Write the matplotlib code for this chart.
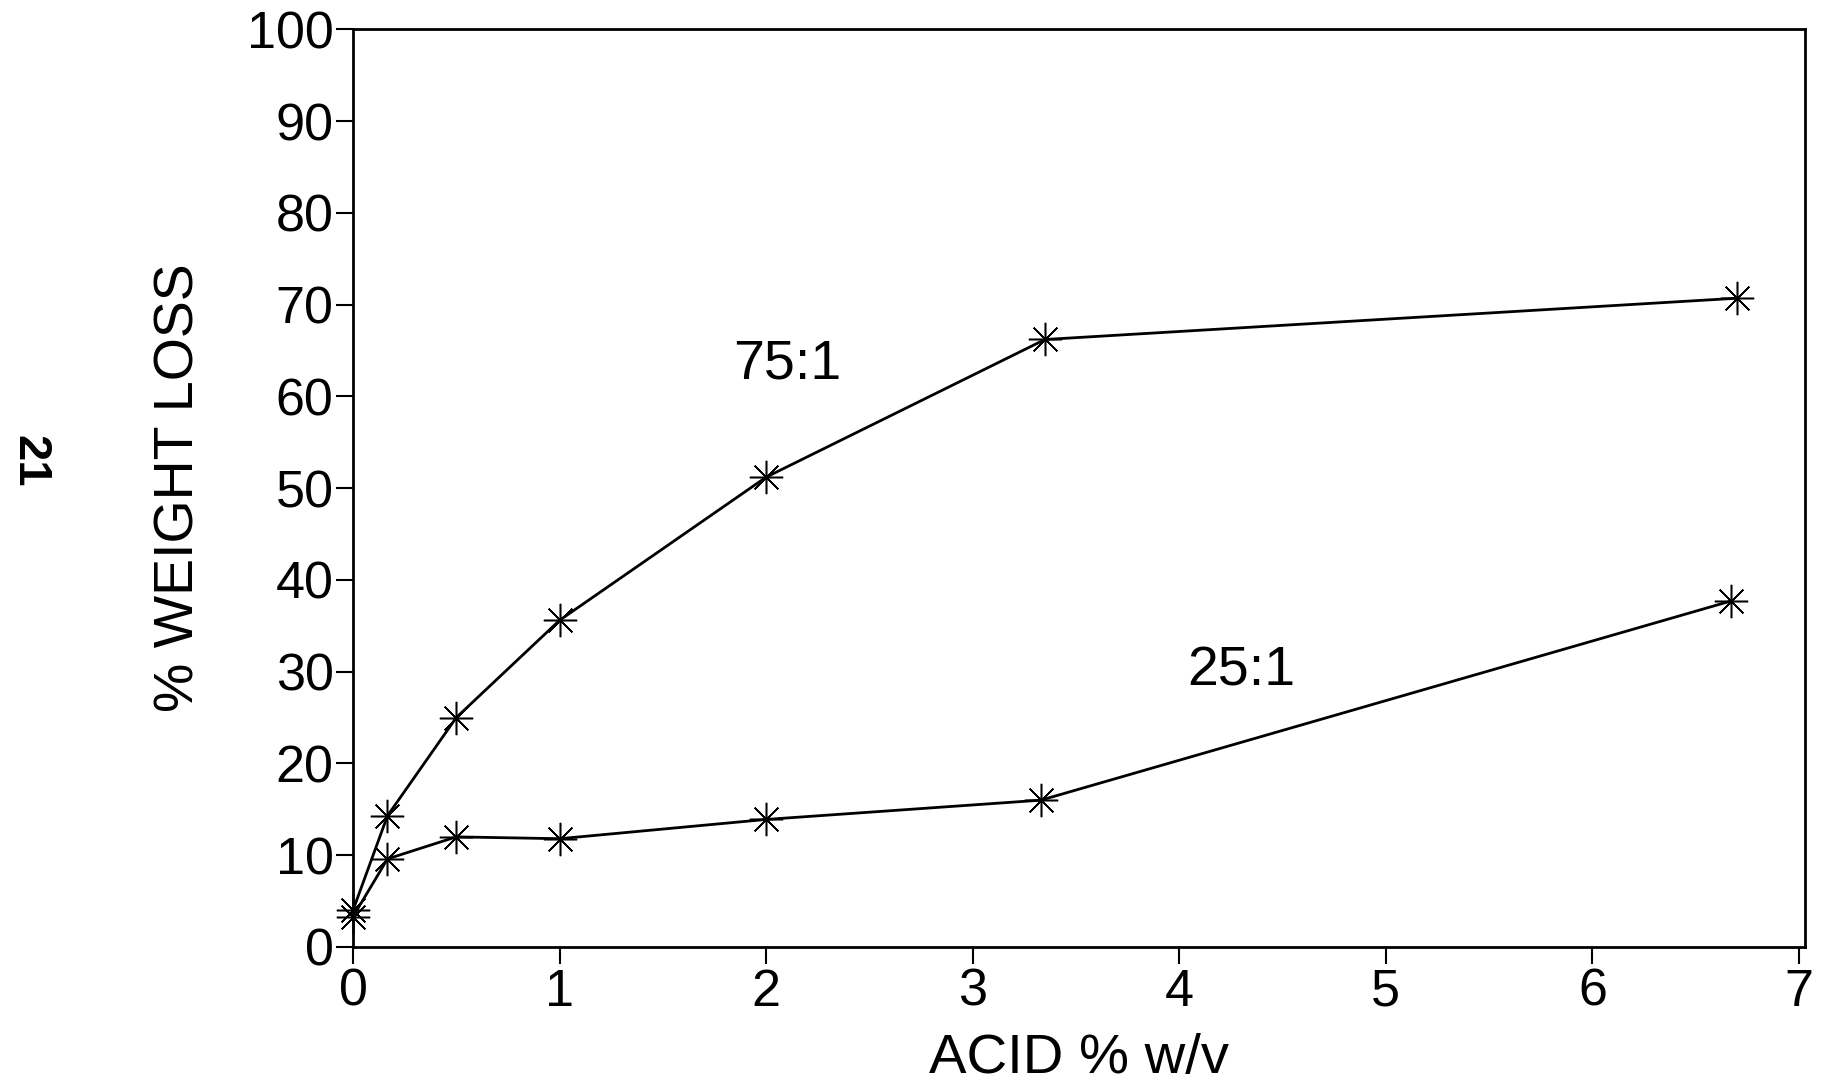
import matplotlib
matplotlib.use('Agg')
import matplotlib.pyplot as plt

plt.rcParams['font.family'] = ['Liberation Sans', 'DejaVu Sans']

# Данные
acid = [0.0, 0.167, 0.5, 1.0, 2.0, 3.35, 6.7]
loss_75 = [4.0, 14.3, 25.0, 35.6, 51.2, 66.2, 70.7]
acid_25 = [0.0, 0.167, 0.5, 1.0, 2.0, 3.33, 6.67]
loss_25 = [3.3, 9.6, 12.0, 11.8, 13.9, 16.0, 37.7]

x_ticks = [0, 1, 2, 3, 4, 5, 6, 7]
y_ticks = [0, 10, 20, 30, 40, 50, 60, 70, 80, 90, 100]

fig = plt.figure(figsize=(18.29, 10.86), dpi=100)
ax = fig.add_axes([0.193, 0.128, 0.794, 0.845])

star = (8, 2, 0)
for xs, ys in [(acid, loss_75), (acid_25, loss_25)]:
    ax.plot(xs, ys, color='black', linewidth=2.0, marker=star,
            markersize=24, markeredgewidth=1.1, clip_on=False)

ax.text(2.1, 63.5, '75:1', fontsize=40, ha='center', va='center')
ax.text(4.3, 30.0, '25:1', fontsize=40, ha='center', va='center')

ax.set_xlim(0, 7.03)
ax.set_ylim(0, 100)
ax.set_xticks(x_ticks)
ax.set_yticks(y_ticks)
ax.tick_params(axis='both', labelsize=37.5, width=1.5, length=12, direction='out')
ax.tick_params(axis='x', pad=3)
ax.tick_params(axis='y', pad=2)

for sp in ax.spines.values():
    sp.set_linewidth(2)

ax.set_xlabel('ACID % w/v', fontsize=40.5, labelpad=12)
ax.set_ylabel('% WEIGHT LOSS', fontsize=40, labelpad=30)

fig.text(0.016, 0.575, '21', fontsize=34, rotation=-90, weight='bold',
         ha='center', va='center')

fig.savefig('out.png', dpi=100)
